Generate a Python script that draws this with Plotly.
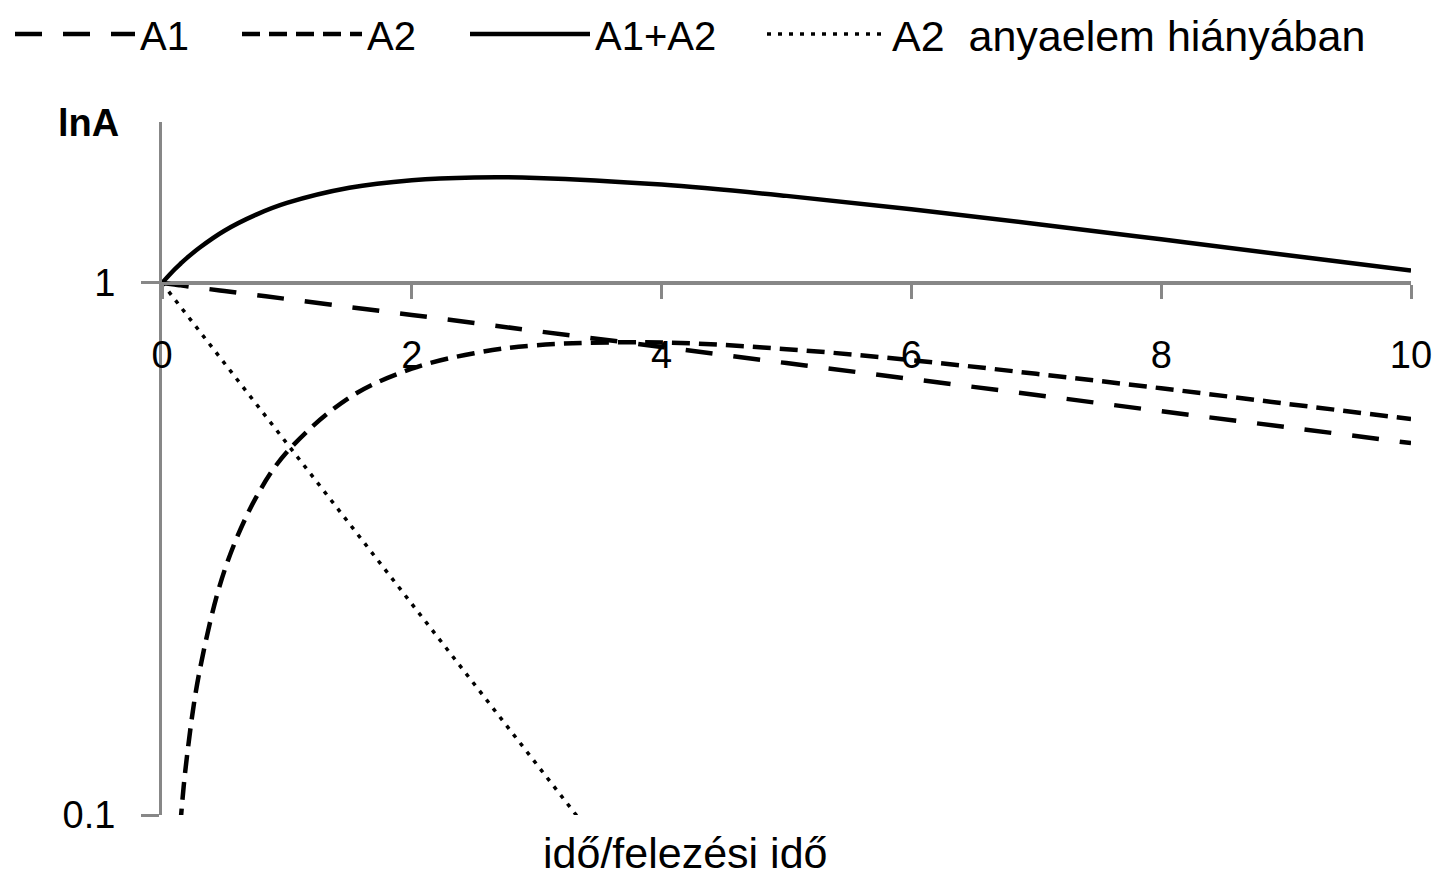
import plotly.graph_objects as go

# time in units of the daughter (A2) half-life
t = [0, 0.1, 0.15, 0.2, 0.3, 0.5, 0.75, 1, 1.5, 2, 2.5, 3, 4, 5, 6, 7, 8, 9, 10]
a1 = [1.000, 0.993, 0.990, 0.986, 0.979, 0.966, 0.949, 0.933, 0.901, 0.871, 0.841,
      0.812, 0.758, 0.707, 0.660, 0.616, 0.574, 0.536, 0.500]
a2 = [None, 0.067, 0.098, 0.129, 0.186, 0.288, 0.394, 0.481, 0.609, 0.690, 0.738,
      0.764, 0.773, 0.751, 0.716, 0.675, 0.634, 0.593, 0.555]
a_sum = [1.000, 1.060, 1.088, 1.115, 1.165, 1.254, 1.343, 1.414, 1.510, 1.560, 1.579,
         1.576, 1.531, 1.458, 1.376, 1.291, 1.208, 1.129, 1.055]
t_free = [0, 0.5, 1, 1.5, 2, 2.5, 3, 3.5]
a2_free = [1.000, 0.707, 0.500, 0.354, 0.250, 0.177, 0.125, 0.088]

series_names = ["A1", "A2", "A1+A2", "A2  anyaelem hiányában"]
x_ticks = [0, 2, 4, 6, 8, 10]
y_ticks = [0.1, 1]
y_tick_text = ["0.1", "1"]

FONT = "Liberation Sans, Arial, sans-serif"
AXIS_GRAY = "#878787"
W, H = 1440, 880

fig = go.Figure()
fig.add_trace(go.Scatter(x=t, y=a1, name=series_names[0], mode="lines", legend="legend",
                         line=dict(color="black", width=4.5, dash="27px,21px"),
                         line_shape="spline"))
fig.add_trace(go.Scatter(x=t, y=a2, name=series_names[1], mode="lines", legend="legend2",
                         line=dict(color="black", width=4.5, dash="18px,9px"),
                         line_shape="spline"))
fig.add_trace(go.Scatter(x=t, y=a_sum, name=series_names[2], mode="lines", legend="legend3",
                         line=dict(color="black", width=4.5),
                         line_shape="spline"))
fig.add_trace(go.Scatter(x=t_free, y=a2_free, name=series_names[3], mode="lines",
                         legend="legend4",
                         line=dict(color="black", width=3.5, dash="4px,7px")))


def leg(x_px, size=40):
    return dict(orientation="h", x=x_px / W, xanchor="left", xref="container",
                y=1 - 34 / H, yanchor="middle", yref="container",
                font=dict(size=size), itemwidth=120, bgcolor="rgba(0,0,0,0)")


fig.update_layout(
    width=W, height=H,
    paper_bgcolor="white", plot_bgcolor="white",
    margin=dict(l=162, r=29, t=122, b=65, autoexpand=False),
    font=dict(family=FONT, size=38, color="black"),
    showlegend=True,
    legend=leg(10),
    legend2=leg(237),
    legend3=leg(465),
    legend4=leg(762, size=43),
    xaxis=dict(range=[0, 10], tickvals=x_ticks, showgrid=False, zeroline=False,
               showline=True, linecolor=AXIS_GRAY, linewidth=3,
               ticks="outside", ticklen=14, tickwidth=3, tickcolor=AXIS_GRAY,
               anchor="free", position=0.7677, ticklabelstandoff=23,
               tickfont=dict(size=38)),
    yaxis=dict(type="log", range=[-1, 0.3026], tickvals=y_ticks, ticktext=y_tick_text,
               showgrid=True, gridcolor=AXIS_GRAY, gridwidth=3, zeroline=False,
               showline=True, linecolor=AXIS_GRAY, linewidth=3,
               ticks="outside", ticklen=18, tickwidth=3, tickcolor=AXIS_GRAY,
               ticklabelstandoff=18, tickfont=dict(size=38)),
    annotations=[
        dict(text="<b>lnA</b>", xref="paper", yref="paper", x=-0.0848, y=0.998,
             xanchor="left", yanchor="middle", showarrow=False, font=dict(size=38)),
        dict(text="idő/felezési idő", xref="paper", yref="paper", x=0.4188, y=-0.0924,
             xanchor="center", yanchor="bottom", showarrow=False, font=dict(size=43)),
    ],
)

fig.write_html("out.html", config={"displayModeBar": False},
               post_script="document.body.style.margin='0';")
